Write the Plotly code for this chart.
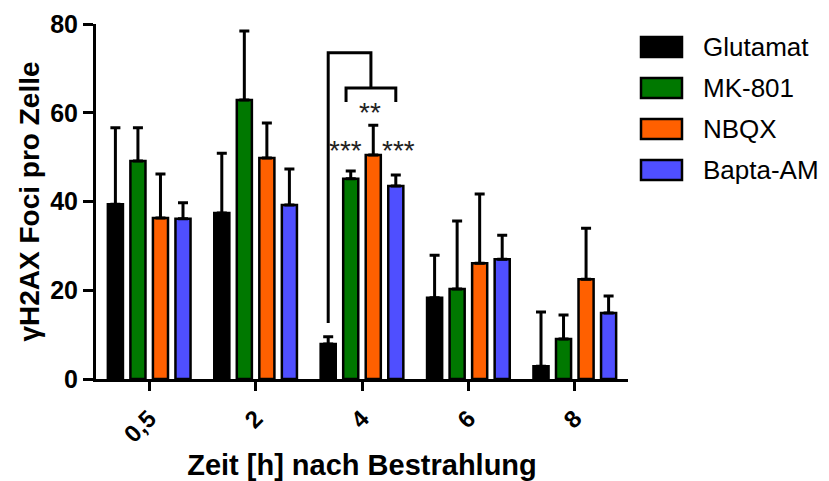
import plotly.graph_objects as go

categories = ["0,5", "2", "4", "6", "8"]
series_names = ["Glutamat", "MK-801", "NBQX", "Bapta-AM"]
series_colors = ["#000000", "#007800", "#FF6000", "#4F4FFF"]

glutamat = [39.4, 37.4, 7.9, 18.3, 2.9]
glutamat_err = [17.2, 13.5, 1.6, 9.6, 12.2]
mk801 = [49.1, 62.9, 45.1, 20.3, 9.0]
mk801_err = [7.5, 15.5, 1.8, 15.3, 5.4]
nbqx = [36.3, 49.8, 50.5, 26.1, 22.5]
nbqx_err = [9.9, 7.9, 6.7, 15.6, 11.5]
bapta = [36.1, 39.2, 43.5, 27.0, 14.9]
bapta_err = [3.6, 8.1, 2.5, 5.4, 3.8]

y_ticks = [0, 20, 40, 60, 80]

# significance annotations (group "4")
sig_group = 2
outer_top, outer_left_bottom = 73.5, 12.6
inner_top, inner_bottom = 65.6, 62.4
star_labels = ["***", "**", "***"]
star_y = [51.4, 60.0, 51.4]

values = [glutamat, mk801, nbqx, bapta]
errors = [glutamat_err, mk801_err, nbqx_err, bapta_err]

FONT = "Liberation Sans, Arial, sans-serif"
bargap = 0.153
pitch = (1 - bargap) / 4

fig = go.Figure()
for name, col, v, e in zip(series_names, series_colors, values, errors):
    fig.add_trace(go.Bar(
        x=categories, y=v, name=name,
        marker=dict(color=col, line=dict(color="black", width=2.5)),
        error_y=dict(type="data", array=e, arrayminus=[0] * len(e), symmetric=False,
                     color="black", thickness=3, width=5),
        showlegend=False,
    ))

# bar centre offsets within a group
offs = [(i - 1.5) * pitch for i in range(4)]
xb = sig_group + offs[0]
xi0 = sig_group - 0.15
xi1 = sig_group + offs[3]
xmid = (xi0 + xi1) / 2
line = dict(color="black", width=3)
fig.add_shape(type="path", xref="x", yref="y", line=line,
              path=f"M{xb},{outer_left_bottom} L{xb},{outer_top} L{xmid},{outer_top} L{xmid},{inner_top}")
fig.add_shape(type="path", xref="x", yref="y", line=line,
              path=f"M{xi0},{inner_bottom} L{xi0},{inner_top} L{xi1},{inner_top} L{xi1},{inner_bottom}")

star_x = [sig_group + offs[1] - 0.05, sig_group + offs[2] - 0.03, sig_group + offs[3] + 0.03]
for sx, sy, s in zip(star_x, star_y, star_labels):
    fig.add_annotation(x=sx, y=sy, xref="x", yref="y", text=s, showarrow=False,
                       font=dict(family=FONT, size=28, color="#222222"))

# manual legend
plot_l, plot_r, plot_t, plot_b = 96, 628, 24, 379
W, H = plot_r - plot_l, plot_b - plot_t
def px(xp): return (xp - plot_l) / W
def py(yp): return (plot_b - yp) / H
row_y = [47, 88, 129, 170]
for name, col, ry in zip(series_names, series_colors, row_y):
    fig.add_shape(type="rect", xref="paper", yref="paper",
                  x0=px(641), x1=px(682), y0=py(ry + 10), y1=py(ry - 10),
                  fillcolor=col, line=dict(color="black", width=2.5))
    fig.add_annotation(x=px(701), y=py(ry), xref="paper", yref="paper", text=name,
                       showarrow=False, xanchor="left", yanchor="middle",
                       font=dict(family=FONT, size=26, color="black"))

fig.update_layout(
    width=829, height=481,
    margin=dict(l=plot_l, r=829 - plot_r, t=plot_t, b=481 - plot_b, autoexpand=False),
    barmode="group", bargap=bargap, bargroupgap=0.33,
    plot_bgcolor="white", paper_bgcolor="white",
    font=dict(family=FONT, color="black"),
)
fig.update_xaxes(
    type="category", range=[-0.5, 4.5], automargin=False,
    showline=True, linecolor="black", linewidth=3,
    ticks="outside", ticklen=9, tickwidth=3, tickcolor="black",
    tickangle=-45, ticklabelstandoff=4,
    tickfont=dict(family=FONT, size=24, weight="bold"),
    title=dict(text="Zeit [h] nach Bestrahlung", standoff=10,
               font=dict(family=FONT, size=29, weight="bold")),
    showgrid=False, zeroline=False,
)
fig.update_yaxes(
    range=[0, 80], tickvals=y_ticks, automargin=False,
    showline=True, linecolor="black", linewidth=3,
    ticks="outside", ticklen=10, tickwidth=3, tickcolor="black",
    tickfont=dict(family=FONT, size=25, weight="bold"),
    title=dict(text="γH2AX Foci pro Zelle", standoff=3,
               font=dict(family=FONT, size=28, weight="bold")),
    showgrid=False, zeroline=False,
)

fig.write_html("out.html")
